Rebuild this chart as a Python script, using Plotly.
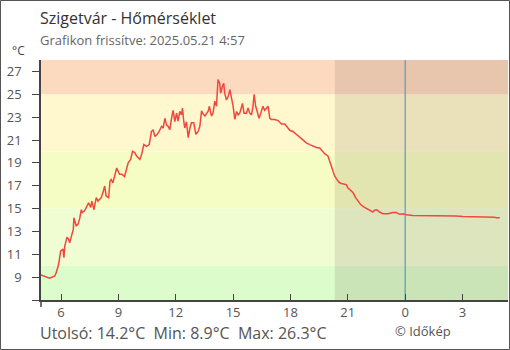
import plotly.graph_objects as go

# ---- data ----
hours = [4.95, 5.11, 5.40, 5.67, 5.75, 5.87, 5.98, 6.10, 6.15, 6.19, 6.31, 6.40, 6.45, 6.53,
         6.64, 6.67, 6.79, 6.88, 6.97, 7.06, 7.11, 7.23, 7.32, 7.44, 7.55, 7.61, 7.72, 7.79,
         7.84, 7.93, 8.02, 8.10, 8.19, 8.28, 8.36, 8.49, 8.56, 8.62, 8.71, 8.83, 8.91, 9.06,
         9.18, 9.32, 9.43, 9.51, 9.64, 9.74, 9.86, 9.95, 10.12, 10.21, 10.33, 10.47, 10.61,
         10.73, 10.82, 10.91, 11.03, 11.13, 11.26, 11.34, 11.43, 11.52, 11.60, 11.69, 11.78,
         11.86, 11.95, 12.04, 12.12, 12.21, 12.30, 12.35, 12.42, 12.47, 12.56, 12.65, 12.74,
         12.82, 12.94, 13.05, 13.17, 13.26, 13.35, 13.42, 13.52, 13.60, 13.69, 13.76, 13.87,
         13.95, 14.04, 14.13, 14.21, 14.30, 14.35, 14.44, 14.51, 14.56, 14.65, 14.74, 14.83,
         14.92, 15.00, 15.09, 15.18, 15.26, 15.35, 15.49, 15.57, 15.70, 15.78, 15.87, 15.96,
         16.04, 16.10, 16.18, 16.25, 16.36, 16.45, 16.56, 16.65, 16.74, 16.83, 16.92, 17.00,
         17.18, 17.35, 17.53, 17.70, 17.87, 17.96, 18.13, 18.31, 18.48, 18.66, 18.83, 19.01,
         19.18, 19.36, 19.53, 19.67, 19.79, 19.96, 20.05, 20.14, 20.22, 20.31, 20.43, 20.54,
         20.66, 20.92, 21.01, 21.13, 21.27, 21.41, 21.53, 21.67, 21.83, 22.00, 22.14, 22.31,
         22.40, 22.52, 22.66, 22.84, 23.10, 23.36, 23.54, 23.71, 23.88, 24.06, 24.40, 24.75,
         25.10, 25.28, 25.63, 25.80, 26.15, 26.67, 27.02, 27.54, 27.89, 28.41, 28.67, 28.76,
         28.90, 28.95]
temps = [9.2, 9.1, 8.9, 9.1, 9.4, 10.1, 11.3, 11.45, 10.7, 11.7, 12.5, 12.3, 12.0, 12.5,
         13.2, 14.2, 13.5, 13.6, 14.1, 14.9, 14.65, 14.8, 15.1, 15.5, 15.1, 15.65, 14.9, 15.5,
         15.95, 15.65, 15.8, 15.95, 16.4, 16.97, 16.1, 15.95, 17.4, 17.55, 17.25, 18.1, 18.55, 18.0,
         18.0, 17.8, 18.4, 19.0, 19.3, 20.0, 19.9, 19.6, 19.3, 19.7, 20.6, 20.45, 20.6,
         21.75, 21.9, 21.3, 21.5, 21.75, 22.2, 22.05, 22.9, 22.3, 22.2, 21.9, 22.9,
         23.6, 22.6, 23.35, 22.65, 23.5, 23.2, 23.8, 22.6, 22.05, 22.6, 21.2, 22.05,
         22.5, 22.5, 21.5, 21.75, 22.2, 23.55, 23.3, 23.1, 23.3, 23.5, 23.95, 23.1,
         23.35, 24.4, 23.95, 26.3, 25.95, 25.1, 25.7, 25.95, 25.1, 24.5, 24.8, 25.4,
         24.65, 23.95, 22.8, 23.5, 23.2, 23.35, 24.2, 23.35, 23.35, 23.8, 23.35, 23.2,
         23.95, 25.0, 23.95, 23.6, 22.9, 23.35, 23.95, 23.6, 23.8, 23.95, 22.9, 22.8,
         22.8, 22.7, 22.4, 22.4, 22.05, 21.85, 21.75, 21.5, 21.3, 21.05, 20.75, 20.6,
         20.45, 20.35, 20.3, 20.0, 19.8, 19.6, 19.15, 18.7, 18.1, 17.85, 17.55, 17.3,
         17.2, 17.1, 16.8, 16.6, 16.4, 15.95, 15.65, 15.35, 15.15, 15.0, 14.85, 14.7,
         14.85, 14.9, 14.7, 14.55, 14.55, 14.65, 14.65, 14.5, 14.55, 14.45, 14.4, 14.4,
         14.4, 14.35, 14.4, 14.4, 14.35, 14.35, 14.3, 14.3, 14.25, 14.25, 14.25, 14.2,
         14.2, 14.2]

x_tick_vals = [6, 9, 12, 15, 18, 21, 24, 27]
x_tick_text = ["6", "9", "12", "15", "18", "21", "0", "3"]
y_tick_vals = [7, 9, 11, 13, 15, 17, 19, 21, 23, 25, 27]
y_tick_text = ["", "\u20079", "11", "13", "15", "17", "19", "21", "23", "25", "27"]

band_edges = [7, 10, 15, 20, 25, 28]
band_colors = ["#dcfccc", "#f0fdd3", "#f6fdc4", "#fff8cf", "#fcdac0"]

x_range = [4.95, 29.38]
y_range = [7, 28]
sunset_hour = 20.32
midnight_hour = 24

title_text = "Szigetvár - Hőmérséklet"
subtitle_text = "Grafikon frissítve: 2025.05.21 4:57"
stats_text = "Utolsó: 14.2°C  Min: 8.9°C  Max: 26.3°C"
credit_text = "© Időkép"

# ---- layout geometry (pixels) ----
W, H = 510, 350
L, R, T, B = 41, 2, 60, 50
pw, ph = W - L - R, H - T - B


def px(x):
    return (x - L) / pw


def py(y):
    return (H - B - y) / ph


fig = go.Figure()
fig.add_trace(go.Scatter(x=hours, y=temps, mode="lines",
                         line=dict(color="#f2463e", width=1.5),
                         hoverinfo="skip", showlegend=False))

shapes = []
for i, c in enumerate(band_colors):
    shapes.append(dict(type="rect", xref="paper", yref="y", x0=0, x1=1,
                       y0=band_edges[i], y1=band_edges[i + 1],
                       fillcolor=c, line=dict(width=0), layer="below"))
shapes.append(dict(type="rect", xref="x", yref="paper", x0=sunset_hour, x1=x_range[1],
                   y0=0, y1=1, fillcolor="rgba(60,40,20,0.11)", line=dict(width=0),
                   layer="below"))
shapes.append(dict(type="line", xref="x", yref="paper", x0=midnight_hour, x1=midnight_hour,
                   y0=0, y1=1, line=dict(color="#3f8cc0", width=1), layer="below"))
# small downward extension of the y axis line
shapes.append(dict(type="line", xref="paper", yref="paper", x0=0, x1=0,
                   y0=0, y1=py(307), line=dict(color="#444", width=1.5)))
# outer frame
shapes.append(dict(type="rect", xref="paper", yref="paper", x0=px(0.5), x1=px(509.5),
                   y0=py(349.5), y1=py(0.5), line=dict(color="#555", width=1),
                   fillcolor="rgba(0,0,0,0)"))

font_family = "Open Sans"
annotations = [
    dict(text=title_text, x=px(38), y=py(18), xanchor="left", yanchor="middle",
         font=dict(size=16, color="#333", family=font_family)),
    dict(text=subtitle_text, x=px(38), y=py(40), xanchor="left", yanchor="middle",
         font=dict(size=13, color="#666", family=font_family)),
    dict(text="°C", x=px(10), y=py(51), xanchor="left", yanchor="middle",
         font=dict(size=12, color="#444", family=font_family)),
    dict(text=stats_text, x=px(38), y=py(333), xanchor="left", yanchor="middle",
         font=dict(size=16, color="#555", family=font_family)),
    dict(text=credit_text, x=px(393), y=py(331), xanchor="left", yanchor="middle",
         font=dict(size=13, color="#555", family=font_family)),
]
for a in annotations:
    a.update(xref="paper", yref="paper", showarrow=False)

fig.update_layout(
    width=W, height=H,
    margin=dict(l=L, r=R, t=T, b=B),
    paper_bgcolor="white", plot_bgcolor="white",
    showlegend=False,
    shapes=shapes, annotations=annotations,
    font=dict(family=font_family, size=13, color="#444"),
)
fig.update_xaxes(range=x_range, tickvals=x_tick_vals, ticktext=x_tick_text,
                 showgrid=False, zeroline=False, showline=True, linecolor="#444",
                 linewidth=1.5, ticks="inside", ticklen=6, tickcolor="#444",
                 tickfont=dict(size=13, color="#555"))
fig.update_yaxes(range=y_range, tickvals=y_tick_vals, ticktext=y_tick_text,
                 showgrid=False, zeroline=False, showline=True, linecolor="#444",
                 linewidth=1.5, ticks="outside", ticklen=7, tickcolor="#444",
                 ticklabelstandoff=8,
                 tickfont=dict(size=13, color="#555"))

fig.write_html("out.html")
